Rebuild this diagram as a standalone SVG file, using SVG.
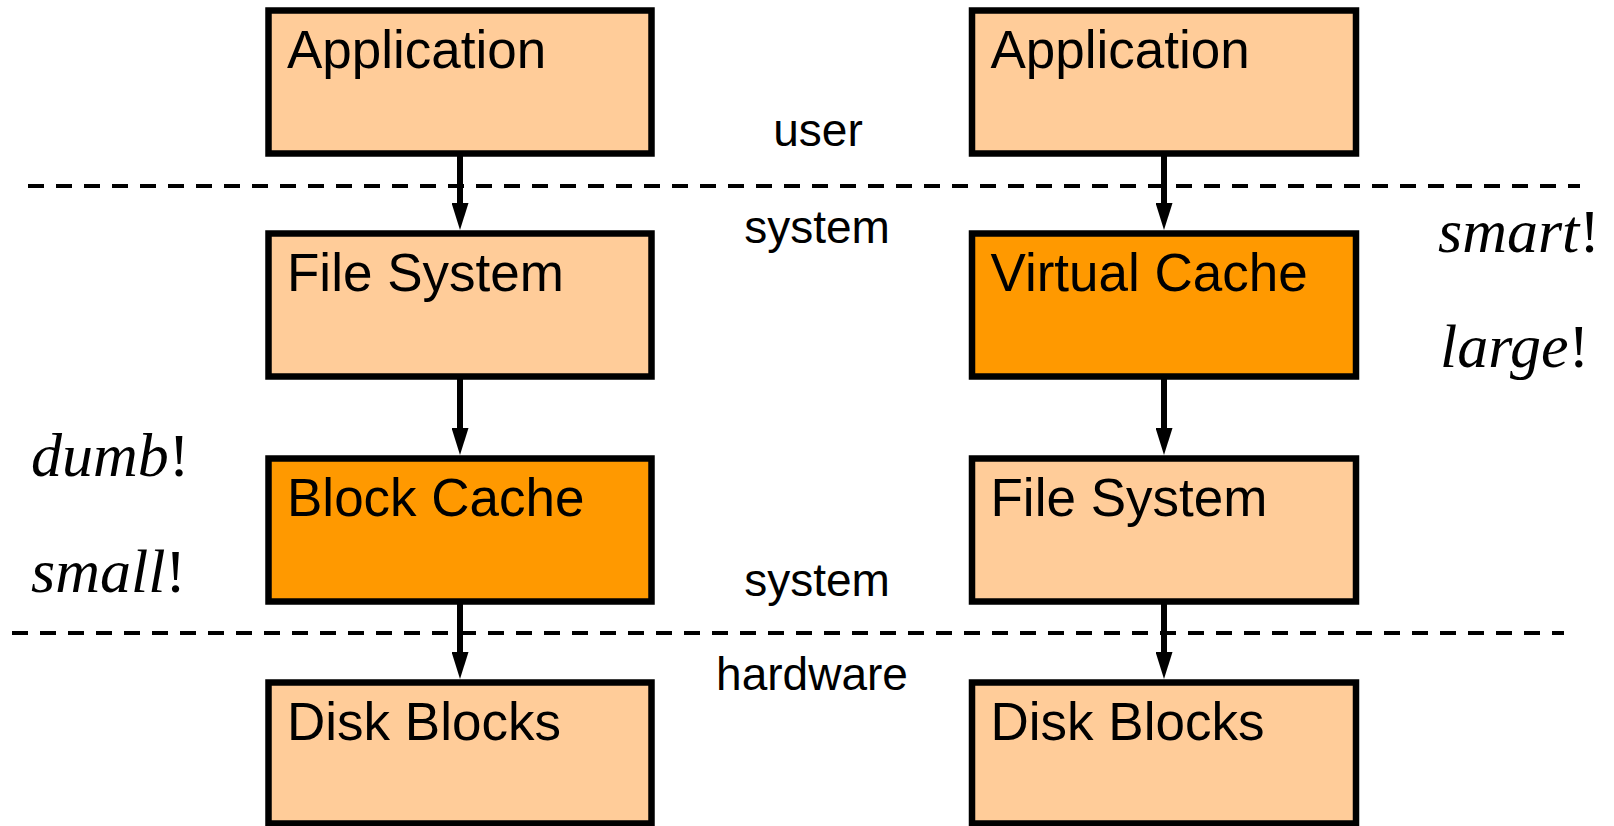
<svg xmlns="http://www.w3.org/2000/svg" width="1614" height="826" viewBox="0 0 1614 826">
<defs>
<style>
.box{stroke:#000;stroke-width:6.5;stroke-linejoin:miter}
.light{fill:#FFCC99}
.dark{fill:#FF9900}
.lbl{font-family:"Liberation Sans",Arial,sans-serif;font-size:53px;fill:#000}
.lay{font-family:"Liberation Sans",Arial,sans-serif;font-size:46px;fill:#000;text-anchor:middle}
.it{font-family:"Liberation Serif","Times New Roman",serif;font-size:62px;fill:#000}
.dash{stroke:#000;stroke-width:4;stroke-dasharray:16 12;fill:none}
.conn{stroke:#000;stroke-width:6;fill:none}
</style>
<marker id="ah" markerUnits="userSpaceOnUse" markerWidth="27" markerHeight="17" refX="7" refY="8.5" orient="auto" viewBox="0 0 27 17">
<path d="M0,0 L27,8.5 L0,17 Z" fill="#000"/>
</marker>
</defs>
<g id="layers">
<line class="dash" x1="28" y1="186" x2="1580" y2="186"/>
<line class="dash" x1="12" y1="633" x2="1564" y2="633"/>
<text class="lay" x="818" y="146">user</text>
<text class="lay" x="817" y="243">system</text>
<text class="lay" x="817" y="596">system</text>
<text class="lay" x="812" y="690">hardware</text>
</g>
<g id="connectors">
<line class="conn" x1="460" y1="153" x2="460" y2="210" marker-end="url(#ah)"/>
<line class="conn" x1="460" y1="376" x2="460" y2="435" marker-end="url(#ah)"/>
<line class="conn" x1="460" y1="601" x2="460" y2="659" marker-end="url(#ah)"/>
<line class="conn" x1="1164" y1="153" x2="1164" y2="210" marker-end="url(#ah)"/>
<line class="conn" x1="1164" y1="376" x2="1164" y2="435" marker-end="url(#ah)"/>
<line class="conn" x1="1164" y1="601" x2="1164" y2="659" marker-end="url(#ah)"/>
</g>
<g id="app-left"><rect class="box light" x="268.5" y="10.5" width="383" height="143"/><text class="lbl" x="287" y="68">Application</text></g>
<g id="fs-left"><rect class="box light" x="268.5" y="233.5" width="383" height="143"/><text class="lbl" x="287" y="291">File System</text></g>
<g id="bc-left"><rect class="box dark" x="268.5" y="458.5" width="383" height="143"/><text class="lbl" x="287" y="516">Block Cache</text></g>
<g id="disk-left"><rect class="box light" x="268.5" y="682.5" width="383" height="141"/><text class="lbl" x="287" y="740">Disk Blocks</text></g>
<g id="app-right"><rect class="box light" x="972" y="10.5" width="384" height="143"/><text class="lbl" x="990.5" y="68">Application</text></g>
<g id="vc-right"><rect class="box dark" x="972" y="233.5" width="384" height="143"/><text class="lbl" x="990.5" y="291">Virtual Cache</text></g>
<g id="fs-right"><rect class="box light" x="972" y="458.5" width="384" height="143"/><text class="lbl" x="990.5" y="516">File System</text></g>
<g id="disk-right"><rect class="box light" x="972" y="682.5" width="384" height="141"/><text class="lbl" x="990.5" y="740">Disk Blocks</text></g>
<g id="notes">
<text class="it" x="31" y="476"><tspan font-style="italic">dumb</tspan>!</text>
<text class="it" x="31" y="592"><tspan font-style="italic">small</tspan>!</text>
<text class="it" x="1438" y="252"><tspan font-style="italic">smart</tspan>!</text>
<text class="it" x="1440" y="367"><tspan font-style="italic">large</tspan>!</text>
</g>
</svg>
